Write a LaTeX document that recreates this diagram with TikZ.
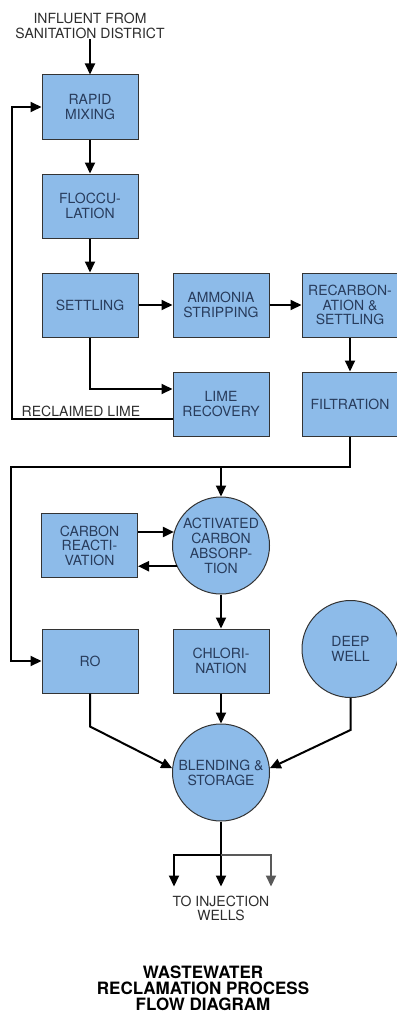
\documentclass[tikz,border=0pt]{standalone}
\usepackage{fontspec}
\setmainfont{TeX Gyre Heros}
\usepackage{xcolor}
\definecolor{boxblue}{RGB}{141,187,233}
\definecolor{boxtext}{RGB}{40,60,92}
\definecolor{labeltext}{RGB}{45,45,45}
\usetikzlibrary{shapes.geometric, arrows.meta, positioning}

\begin{document}
\begin{tikzpicture}[
      node distance=34pt and 34pt,
      box/.style={rectangle, draw=black!80, line width=1pt, fill=boxblue,
                  minimum width=96pt, minimum height=64pt, inner sep=0pt,
                  align=center, text=boxtext,
                  font=\fontsize{14}{14.5}\selectfont},
      circ/.style={circle, draw=black!80, line width=1pt, fill=boxblue,
                   minimum size=97pt, inner sep=0pt, align=center,
                   text=boxtext, font=\fontsize{14}{15}\selectfont},
      lbl/.style={align=center, inner sep=1pt, text=labeltext,
                  font=\fontsize{14}{14.5}\selectfont},
      arr/.style={-{Triangle[length=11pt,width=10pt]}, line width=2pt, draw=black},
      pipe/.style={line width=2pt, draw=black},
      ]
    \useasboundingbox (0,0) rectangle (396pt,-1014pt);

    \node[box] (rapid) at (90pt,-107pt) {RAPID\\MIXING};
    \node[lbl, above=35pt of rapid] (influent) {INFLUENT FROM\\SANITATION DISTRICT};
    \node[box, below=of rapid] (floc) {FLOCCU-\\LATION};
    \node[box, below=of floc] (settle) {SETTLING};
    \node[box, right=of settle] (ammonia) {AMMONIA\\STRIPPING};
    \node[box, right=32pt of ammonia] (recarb) {RECARBON-\\ATION \&\\SETTLING};
    \node[box, below=of ammonia] (lime) {LIME\\RECOVERY};
    \node[box, below=of recarb] (filt) {FILTRATION};
    \node[circ, below=60pt of lime] (act) {ACTIVATED\\CARBON\\ABSORP-\\TION};
    \node[box, left=of act] (carb) {CARBON\\REACTI-\\VATION};
    \node[box, below=of act] (chlor) {CHLORI-\\NATION};
    \node[box, left=of chlor] (ro) {RO};
    \node[circ, right=32pt of chlor, yshift=12pt] (deep) {DEEP\\WELL};
    \node[circ, below=30pt of chlor] (blend) {BLENDING \&\\STORAGE};
    \node[lbl, below=73pt of blend] (inj) {TO INJECTION\\WELLS};
    \node[lbl, text=black, font=\bfseries\fontsize{17}{16}\selectfont] (title)
      at (203pt,-988pt) {WASTEWATER\\RECLAMATION PROCESS\\FLOW DIAGRAM};

    % main train
    \draw[arr] (influent) -- (rapid);
    \draw[arr] (rapid) -- (floc);
    \draw[arr] (floc) -- (settle);
    \draw[arr] (settle) -- (ammonia);
    \draw[arr] (ammonia) -- (recarb);
    \draw[arr] (recarb) -- (filt);

    % lime loop
    \draw[arr] (settle.south) |- ([yshift=15pt]lime.west);
    \draw[arr] ([yshift=-15pt]lime.west) -- ++(-161pt,0) coordinate (bend) |- (rapid.west);
    \node[lbl, anchor=south west] (reclaimed) at ([xshift=9pt,yshift=1pt]bend) {RECLAIMED LIME};

    % filtration effluent
    \draw[arr] (filt.south) -- ++(0,-30pt) coordinate (coll) -| ([xshift=-31pt]ro.west) -- (ro.west);
    \draw[arr] (coll -| act.north) -- (act.north);
    \draw[arr] (carb.east |- act.164) -- (act.164);
    \draw[arr] (act.205) -- (carb.east |- act.205);
    \draw[arr] (act) -- (chlor);

    % blending
    \draw[arr] (chlor) -- (blend);
    \draw[arr] (ro.south) -- ++(0,-33pt) -- (blend.175);
    \draw[arr] (deep.south) -- ++(0,-32pt) -- (blend.5);

    % injection
    \draw[pipe] (blend.south) -- ++(0,-33pt) coordinate (split);
    \draw[arr] (split) -- ([yshift=8pt]inj.north);
    \draw[arr] (split) -| ([xshift=-47pt,yshift=8pt]inj.north);
    \draw[arr, draw=black!65] (split) -| ([xshift=50pt,yshift=8pt]inj.north);
  \end{tikzpicture}
\end{document}
